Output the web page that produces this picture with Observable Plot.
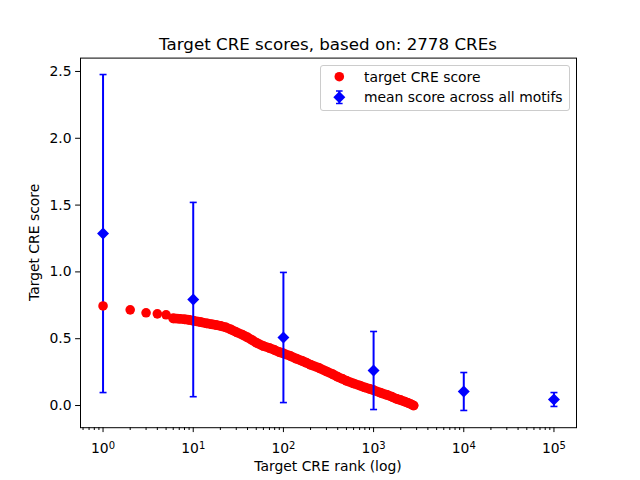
<!DOCTYPE html>
<html>
<head>
<meta charset="utf-8">
<script src="https://cdn.jsdelivr.net/npm/d3@7"></script>
<script src="https://cdn.jsdelivr.net/npm/@observablehq/plot@0.6"></script>
<style>
  html, body { margin: 0; padding: 0; background: #fff; }
  #wrap { position: relative; width: 640px; height: 480px; font-family: "DejaVu Sans", sans-serif; }
  #overlay { position: absolute; left: 0; top: 0; pointer-events: none; }
</style>
</head>
<body>
<div id="wrap"></div>
<script>
// ---- data ----
const titleText = "Target CRE scores, based on: 2778 CREs";
const xLabel = "Target CRE rank (log)";
const yLabel = "Target CRE score";
const legendLabels = ["target CRE score", "mean score across all motifs"];

// target CRE score (red) at sampled ranks
const creRanks = [1, 2, 3, 4, 5, 6, 7, 8, 9, 10, 12, 14, 16, 18, 20, 23, 26, 30, 35, 40, 45, 50, 60, 70, 80, 90, 100,
  120, 140, 160, 180, 200, 250, 300, 350, 400, 450, 500, 600, 700, 800, 900, 1000, 1200, 1400, 1600, 1800, 2000, 2200, 2400, 2600, 2778];
const creScores = [0.745, 0.716, 0.694, 0.686, 0.679, 0.652, 0.649, 0.645, 0.641, 0.635, 0.625, 0.615, 0.608, 0.602, 0.596, 0.585, 0.570, 0.550, 0.530, 0.510, 0.490, 0.470, 0.445, 0.430, 0.415, 0.400, 0.390,
  0.370, 0.350, 0.335, 0.320, 0.305, 0.280, 0.255, 0.235, 0.215, 0.200, 0.185, 0.165, 0.150, 0.135, 0.125, 0.115, 0.095, 0.080, 0.065, 0.050, 0.040, 0.030, 0.020, 0.010, 0.000];

// mean score across all motifs (blue) with error
const motifRanks = [1, 10, 100, 1000, 10000, 100000];
const motifMeans = [1.287, 0.793, 0.509, 0.262, 0.105, 0.045];
const motifErrs  = [1.190, 0.727, 0.487, 0.292, 0.142, 0.052];

// axis ticks
const xTicks = [1, 10, 100, 1000, 10000, 100000];
const xTickLabels = ["10^0", "10^1", "10^2", "10^3", "10^4", "10^5"];
const yTicks = [0.0, 0.5, 1.0, 1.5, 2.0, 2.5];

// ---- build tables ----
const cre = creRanks.map((r, i) => ({rank: r, score: creScores[i]}));
const motifs = motifRanks.map((r, i) => ({rank: r, mean: motifMeans[i], err: motifErrs[i]}));
const minorTicks = [];
for (let e = -1; e <= 5; e++) for (let m = 2; m <= 9; m++) {
  const v = m * Math.pow(10, e);
  if (v > 0.555 && v < 1.8e5) minorTicks.push(v);
}

const RED = "#ff0000", BLUE = "#0000ff";
const capSymbol = { draw(ctx) { ctx.moveTo(-3.5, 0); ctx.lineTo(3.5, 0); } };
const DOT_R = 4.8;

const W = 640, H = 480, ML = 80, MR = 64, MT = 57.6, MB = 52.8;

const chart = Plot.plot({
  width: W, height: H,
  marginLeft: ML, marginRight: MR, marginTop: MT, marginBottom: MB,
  style: { fontFamily: "DejaVu Sans", fontSize: "13.9px", color: "black", background: "white" },
  x: { type: "log", domain: [Math.pow(10, -0.25), Math.pow(10, 5.25)] },
  y: { domain: [-0.166, 2.600] },
  marks: [
    Plot.axisX({ ticks: minorTicks, tickSize: 2.8, tickFormat: () => "", label: null }),
    Plot.axisX({ ticks: xTicks, tickSize: 4.9, tickPadding: 10.3, tickFormat: d => xTickLabels[xTicks.indexOf(d)], label: null }),
    Plot.axisY({ ticks: yTicks, tickSize: 4.9, tickPadding: 4, tickFormat: d => d.toFixed(1), label: null }),
    // red target scores: dense band
    Plot.line(cre.filter(d => d.rank >= 6), { x: "rank", y: "score", stroke: RED, strokeWidth: 2 * DOT_R, strokeLinecap: "round", strokeLinejoin: "round" }),
    Plot.dot(cre.filter(d => d.rank >= 6), { x: "rank", y: "score", r: DOT_R, fill: RED }),
    // blue error bars
    Plot.ruleX(motifs, { x: "rank", y1: d => d.mean - d.err, y2: d => d.mean + d.err, stroke: BLUE, strokeWidth: 2 }),
    Plot.dot(motifs, { x: "rank", y: d => d.mean - d.err, symbol: capSymbol, fill: "none", stroke: BLUE, strokeWidth: 1.6 }),
    Plot.dot(motifs, { x: "rank", y: d => d.mean + d.err, symbol: capSymbol, fill: "none", stroke: BLUE, strokeWidth: 1.6 }),
    Plot.dot(motifs, { x: "rank", y: "mean", symbol: "diamond2", r: 5.4, fill: BLUE }),
    // first discrete red dots
    Plot.dot(cre.filter(d => d.rank < 6), { x: "rank", y: "score", r: DOT_R, fill: RED }),
    Plot.frame({ stroke: "black", strokeWidth: 1 })
  ]
});
const wrap = document.getElementById("wrap");
wrap.appendChild(chart);

// superscript exponent in x tick labels
d3.select(chart).selectAll("text").each(function () {
  const m = (this.textContent || "").match(/^10\^(\d)$/);
  if (m) {
    this.textContent = "10";
    d3.select(this).append("tspan").attr("dy", "-0.42em").style("font-size", "0.72em").text(m[1]);
  }
});

// ---- overlay: title, axis labels, legend ----
const ov = d3.select(wrap).append("svg").attr("id", "overlay")
  .attr("width", W).attr("height", H)
  .style("font-family", "DejaVu Sans");
ov.append("text").attr("x", ML + (W - ML - MR) / 2).attr("y", 50)
  .attr("text-anchor", "middle").style("font-size", "16.7px").text(titleText);
ov.append("text").attr("x", ML + (W - ML - MR) / 2).attr("y", 471)
  .attr("text-anchor", "middle").style("font-size", "13.9px").text(xLabel);
ov.append("text").attr("transform", `translate(39,${MT + (H - MT - MB) / 2}) rotate(-90)`)
  .attr("text-anchor", "middle").style("font-size", "13.9px").text(yLabel);

const lg = ov.append("g");
lg.append("rect").attr("x", 320.5).attr("y", 65.5).attr("width", 249).attr("height", 45).attr("rx", 2.5)
  .attr("fill", "rgba(255,255,255,0.8)").attr("stroke", "#cccccc").attr("stroke-width", 1);
lg.append("circle").attr("cx", 339.3).attr("cy", 76.7).attr("r", DOT_R).attr("fill", RED);
lg.append("text").attr("x", 364).attr("y", 81.5).style("font-size", "13.9px").text(legendLabels[0]);
lg.append("line").attr("x1", 339.3).attr("x2", 339.3).attr("y1", 91).attr("y2", 103.5).attr("stroke", BLUE).attr("stroke-width", 2);
lg.append("line").attr("x1", 336).attr("x2", 342.6).attr("y1", 91).attr("y2", 91).attr("stroke", BLUE).attr("stroke-width", 1.5);
lg.append("line").attr("x1", 336).attr("x2", 342.6).attr("y1", 103.5).attr("y2", 103.5).attr("stroke", BLUE).attr("stroke-width", 1.5);
lg.append("path").attr("d", "M339.3,91.3L345.3,97.3L339.3,103.3L333.3,97.3Z").attr("fill", BLUE);
lg.append("text").attr("x", 364).attr("y", 102).style("font-size", "13.9px").text(legendLabels[1]);
</script>
</body>
</html>
